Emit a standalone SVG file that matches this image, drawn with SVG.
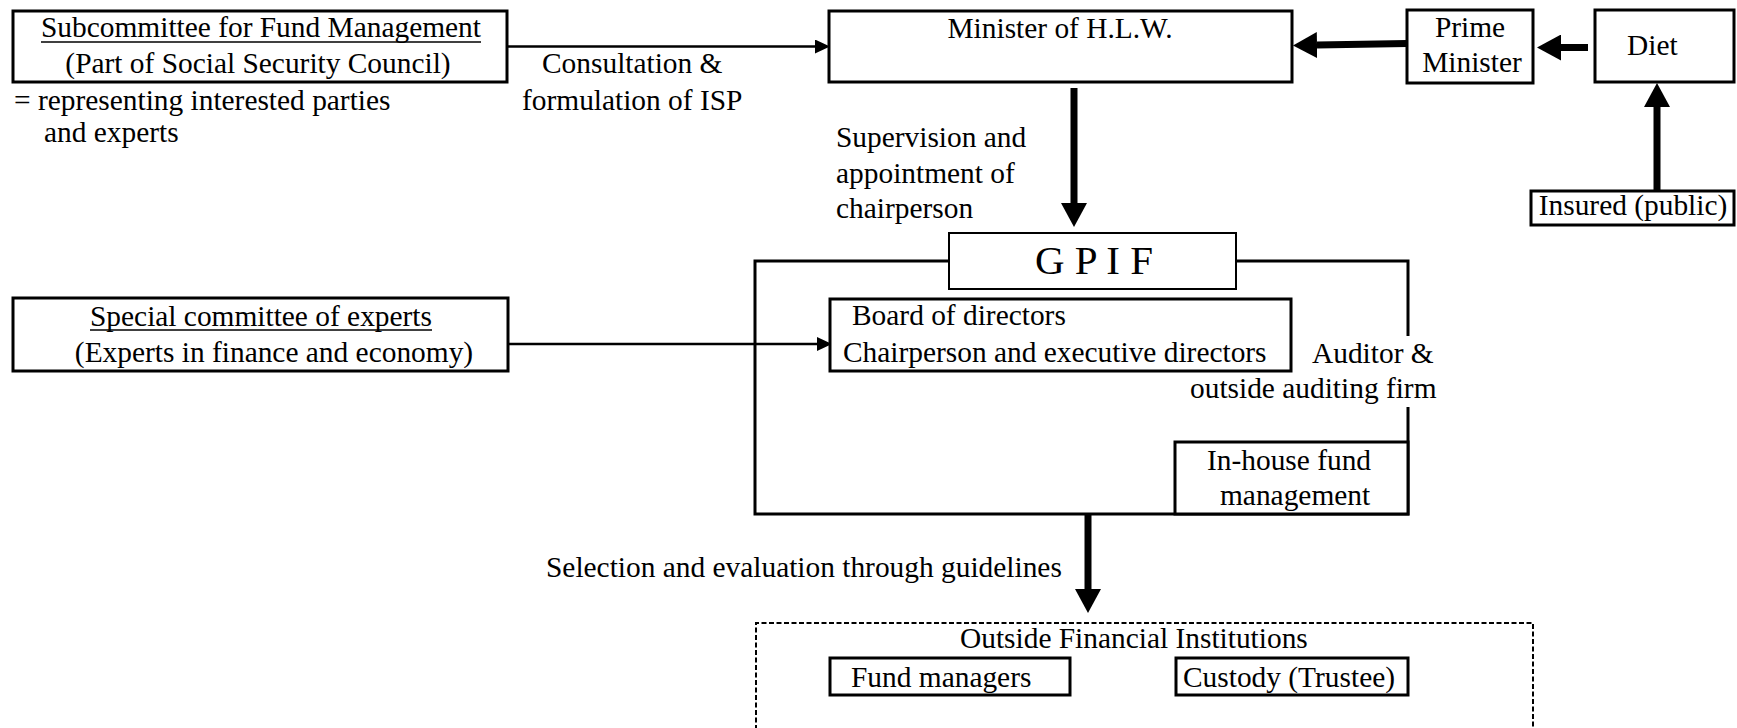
<svg xmlns="http://www.w3.org/2000/svg" width="1737" height="728" viewBox="0 0 1737 728">
<style>
text{font-family:"Liberation Serif","Times New Roman",serif;font-size:29.4px;fill:#000}
.box{fill:#fff;stroke:#000;stroke-width:3}
.thin{stroke:#000;stroke-width:2.6;fill:none}
.thick{stroke:#000;stroke-width:7;fill:none}
.ul{stroke:#000;stroke-width:1.6}
.dash{fill:none;stroke:#000;stroke-width:2;stroke-dasharray:5 2.5}
</style>
<defs>
<marker id="hThick" markerUnits="userSpaceOnUse" markerWidth="24" markerHeight="26" refX="0" refY="13" orient="auto">
<path d="M0,0 L24,13 L0,26 z" fill="#000"/>
</marker>
<marker id="hThin" markerUnits="userSpaceOnUse" markerWidth="15" markerHeight="14" refX="0" refY="7" orient="auto">
<path d="M0,0 L15,7 L0,14 z" fill="#000"/>
</marker>
</defs>

<g id="connectors">
<line class="thin" x1="507" y1="46.5" x2="815" y2="46.5" marker-end="url(#hThin)"/>
<line class="thin" x1="509" y1="344" x2="817" y2="344" marker-end="url(#hThin)"/>
<line class="thick" x1="1074" y1="88" x2="1074" y2="203" marker-end="url(#hThick)"/>
<line class="thick" x1="1407" y1="43.5" x2="1317" y2="45" marker-end="url(#hThick)"/>
<line class="thick" x1="1588" y1="47.5" x2="1561" y2="47.5" marker-end="url(#hThick)"/>
<line class="thick" x1="1657" y1="191" x2="1657" y2="107" marker-end="url(#hThick)"/>
<line class="thick" x1="1088" y1="514" x2="1088" y2="589" marker-end="url(#hThick)"/>
</g>

<g id="subcommittee">
<rect class="box" x="13" y="11" width="494" height="71"/>
<text x="261" y="37" text-anchor="middle">Subcommittee for Fund Management</text>
<line class="ul" x1="41" y1="42" x2="481" y2="42"/>
<text x="258" y="73" text-anchor="middle">(Part of Social Security Council)</text>
</g>
<g id="subcommittee-note">
<text x="14" y="110">= representing interested parties</text>
<text x="44" y="142">and experts</text>
</g>

<g id="consultation-label">
<text x="542" y="73">Consultation &amp;</text>
<text x="522" y="110">formulation of ISP</text>
</g>

<g id="minister">
<rect class="box" x="829" y="11" width="463" height="71"/>
<text x="1060" y="38" text-anchor="middle">Minister of H.L.W.</text>
</g>

<g id="prime-minister">
<rect class="box" x="1407" y="10" width="126" height="73"/>
<text x="1470" y="37" text-anchor="middle">Prime</text>
<text x="1472" y="72" text-anchor="middle">Minister</text>
</g>

<g id="diet">
<rect class="box" x="1595" y="10" width="139" height="72"/>
<text x="1627" y="55">Diet</text>
</g>

<g id="insured">
<rect class="box" x="1531" y="191" width="203" height="34"/>
<text x="1633" y="215" text-anchor="middle">Insured (public)</text>
</g>

<g id="supervision-label">
<text x="836" y="147">Supervision and</text>
<text x="836" y="183">appointment of</text>
<text x="836" y="218">chairperson</text>
</g>

<g id="gpif">
<path d="M949,261 H755 V514 H1408 V407 M1408,336 V261 H1236" fill="none" stroke="#000" stroke-width="3"/>
<rect x="949" y="233" width="287" height="56" fill="#fff" stroke="#000" stroke-width="2"/>
<text x="1094" y="274" text-anchor="middle" style="font-size:41px">G P I F</text>
</g>

<g id="special-committee">
<rect class="box" x="13" y="298" width="495" height="73"/>
<text x="261" y="326" text-anchor="middle">Special committee of experts</text>
<line class="ul" x1="90" y1="330" x2="432" y2="330"/>
<text x="274" y="362" text-anchor="middle">(Experts in finance and economy)</text>
</g>

<g id="board">
<rect class="box" x="830" y="299" width="461" height="72"/>
<text x="852" y="325">Board of directors</text>
<text x="843" y="362">Chairperson and executive directors</text>
</g>

<g id="auditor">
<text x="1312" y="363">Auditor &amp;</text>
<text x="1190" y="398">outside auditing firm</text>
</g>

<g id="inhouse">
<rect class="box" x="1175" y="442" width="233" height="72" fill="none"/>
<text x="1207" y="470">In-house fund</text>
<text x="1220" y="505">management</text>
</g>

<g id="selection-label">
<text x="546" y="577">Selection and evaluation through guidelines</text>
</g>

<g id="outside-institutions">
<path class="dash" d="M756,730 V623 H1533 V730"/>
<text x="960" y="648">Outside Financial Institutions</text>
</g>

<g id="fund-managers">
<rect class="box" x="830" y="658" width="240" height="37"/>
<text x="851" y="687">Fund managers</text>
</g>

<g id="custody">
<rect class="box" x="1176" y="658" width="232" height="37"/>
<text x="1183" y="687">Custody (Trustee)</text>
</g>
</svg>
